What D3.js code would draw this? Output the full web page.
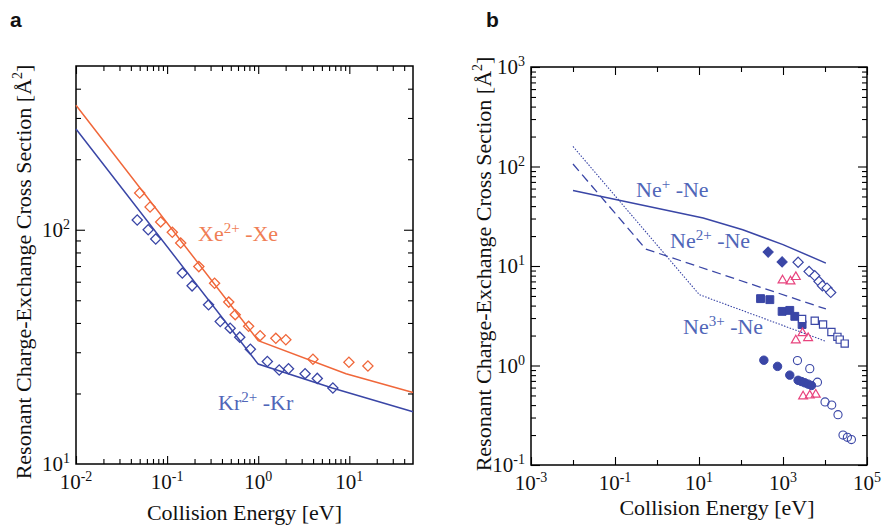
<!DOCTYPE html>
<html><head><meta charset="utf-8">
<script src="https://cdn.jsdelivr.net/npm/d3@7"></script>
<style>
body{margin:0;background:#fff}
svg{display:block}
</style>
</head><body>
<svg id="c" width="883" height="525" font-family="'Liberation Serif', 'DejaVu Serif', serif"></svg>
<script>
// ================= DATA =================
// Panel a : Xe2+ -Xe and Kr2+ -Kr
const xeLine = [[0.01,340],[1,33.6],[9.2,24.3],[50,20.2]];
const krLine = [[0.01,269],[1,26.7],[6.5,21.1],[50,16.7]];
const xeEnergy = [0.050,0.065,0.085,0.114,0.141,0.223,0.332,0.475,0.559,0.785,1.05,1.56,2.01,3.99,9.9,16.0];
const xeSigma  = [143.5,125,108,97.5,87.7,69.6,59.1,49.1,43.4,38.7,35.3,34.4,33.9,28.0,27.2,26.2];
const krEnergy = [0.047,0.062,0.075,0.147,0.188,0.285,0.383,0.492,0.627,0.82,1.26,1.70,2.15,3.27,4.45,6.6];
const krSigma  = [110,100,91.3,65.3,57.6,47.8,40.6,38.0,34.8,30.9,27.4,25.2,25.5,24.3,23.2,21.1];

// Panel b : Ne+ , Ne2+ , Ne3+ -Ne
const ne1Line = [[0.01,57.4],[12.6,30.3],[110,23.1],[1000,16.4],[10500,10.7]];
const ne2Line = [[0.01,106],[0.54,14.8],[10500,3.7]];
const ne3Line = [[0.01,159],[10.2,5.15],[10500,1.75]];

const ne1FilledE = [443,953];
const ne1FilledS = [13.8,11.0];
const ne1OpenE = [2290,4180,5700,7210,8690,11170,13680];
const ne1OpenS = [10.9,8.83,8.0,7.0,6.34,6.0,5.43];

const ne2FilledE = [292,486,953,1450,1910,2850];
const ne2FilledS = [4.7,4.59,3.5,3.58,3.12,2.58];
const ne2OpenE = [2850,5700,8980,14220,19760,22400,29450];
const ne2OpenS = [2.94,2.82,2.58,2.17,1.94,1.82,1.66];

const ne3FilledE = [350,741,1450,2290,2750,3300,3960,4760];
const ne3FilledS = [1.13,0.98,0.80,0.71,0.69,0.67,0.65,0.63];
const ne3OpenE = [2210,4340,6610,10020,14450,20400,26850,34120,42500];
const ne3OpenS = [1.12,0.93,0.68,0.43,0.40,0.32,0.20,0.19,0.18];

const triE1 = [975,1510,2020];  const triS1 = [7.17,7.0,7.76];
const triE2 = [2020,2910,3960]; const triS2 = [1.79,2.12,1.89];
const triE3 = [3010,4340,6030]; const triS3 = [0.49,0.50,0.51];

// tick labels
const aXTicks = [0.01,0.1,1,10];
const aXExp = ["-2","-1","0","1"];
const aYTicks = [10,100];
const aYExp = ["1","2"];
const bXTicks = [1e-3,1e-1,1e1,1e3,1e5];
const bXExp = ["-3","-1","1","3","5"];
const bYTicks = [0.1,1,10,100,1000];
const bYExp = ["-1","0","1","2","3"];

// ================= DRAW =================
const SERIF = "'Liberation Serif', 'DejaVu Serif', serif";
const ORANGE = "#F0673A", BLUE = "#3A46A6", PINK = "#E8447E";
const ORANGE_T = "#F07E55", BLUE_T = "#5066B8";
const svg = d3.select("#c");

function minorTicks(lo, hi) {
  const out = [];
  for (let e = Math.floor(Math.log10(lo)); e <= Math.ceil(Math.log10(hi)); e++) {
    for (let k = 2; k <= 9; k++) {
      const v = k * Math.pow(10, e);
      if (v > lo * 1.0001 && v < hi * 0.9999) out.push(+v.toPrecision(3));
    }
  }
  return out;
}
function decades(lo, hi) {
  const out = [];
  for (let e = Math.round(Math.log10(lo)); e <= Math.round(Math.log10(hi)); e++) out.push(Math.pow(10, e));
  return out;
}

function txt(parent) {
  return parent.append("text").attr("font-family", SERIF).style("font-family", SERIF);
}
function addSup(t, base, exp, supSize, shift, rest) {
  t.append("tspan").text(base);
  t.append("tspan").attr("font-size", supSize).attr("dy", -shift).text(exp);
  if (rest !== undefined) t.append("tspan").attr("dy", shift).text(rest);
}

function frame(cfg) {
  const x = d3.scaleLog().domain(cfg.xDomain).range([cfg.left, cfg.right]);
  const y = d3.scaleLog().domain(cfg.yDomain).range([cfg.bottom, cfg.top]);
  const g = svg.append("g");
  const ax = (axisFn, scale, vals, len, tr) => {
    g.append("g").attr("transform", tr)
      .call(axisFn(scale).tickValues(vals).tickSize(-len).tickFormat(""))
      .call(s => s.select(".domain").remove())
      .call(s => s.selectAll("line").attr("stroke", "#000").attr("stroke-width", 1.1));
  };
  cfg.xTickSets.forEach(([vals, len]) => {
    ax(d3.axisBottom, x, vals, len, `translate(0,${cfg.bottom})`);
    ax(d3.axisTop, x, vals, len, `translate(0,${cfg.top})`);
  });
  cfg.yTickSets.forEach(([vals, len]) => {
    ax(d3.axisLeft, y, vals, len, `translate(${cfg.left},0)`);
    ax(d3.axisRight, y, vals, len, `translate(${cfg.right},0)`);
  });
  g.append("rect").attr("x", cfg.left).attr("y", cfg.top)
    .attr("width", cfg.right - cfg.left).attr("height", cfg.bottom - cfg.top)
    .attr("fill", "none").attr("stroke", "#000").attr("stroke-width", 1.5);
  cfg.xLabels.forEach((v, i) => {
    const t = txt(g).attr("x", x(v)).attr("y", cfg.bottom + 25)
      .attr("text-anchor", "middle").attr("font-size", 21).attr("fill", "#111");
    addSup(t, "10", cfg.xExp[i], 14, 8);
  });
  cfg.yLabels.forEach((v, i) => {
    const t = txt(g).attr("x", cfg.left - 6).attr("y", y(v) + 7)
      .attr("text-anchor", "end").attr("font-size", 21).attr("fill", "#111");
    addSup(t, "10", cfg.yExp[i], 14, 8);
  });
  txt(g).attr("x", cfg.xTitleX).attr("y", cfg.xTitleY)
    .attr("text-anchor", "middle").attr("font-size", 22).attr("fill", "#111")
    .text("Collision Energy [eV]");
  const yt = txt(g).attr("transform", `translate(${cfg.yTitleX},${cfg.yTitleY}) rotate(-90)`)
    .attr("text-anchor", "middle").attr("font-size", 22).attr("fill", "#111");
  addSup(yt, "Resonant Charge-Exchange Cross Section [Å", "2", 14, 9, "]");
  svg.append("text").attr("x", cfg.letterX).attr("y", 27)
    .attr("font-weight", "bold").attr("font-size", 21).attr("fill", "#111").text(cfg.letter)
    .attr("font-family", "'Liberation Sans', Arial, sans-serif")
    .style("font-family", "'Liberation Sans', Arial, sans-serif");
  return {x, y, g};
}

// ---------- Panel a ----------
const A = frame({
  xDomain: [0.01, 50], yDomain: [10, 500],
  left: 76, right: 413, top: 66, bottom: 464,
  xTickSets: [[minorTicks(0.01, 50), 5], [decades(0.01, 10), 8]],
  yTickSets: [[minorTicks(10, 500), 5], [[100], 9]],
  xLabels: aXTicks, xExp: aXExp, yLabels: aYTicks, yExp: aYExp,
  xTitleX: 244.5, xTitleY: 520, yTitleX: 31, yTitleY: 272,
  letter: "a", letterX: 10
});
{
  const {x, y, g} = A;
  const line = d3.line().x(d => x(d[0])).y(d => y(d[1]));
  g.append("path").datum(xeLine).attr("d", line).attr("fill", "none").attr("stroke", ORANGE).attr("stroke-width", 1.5);
  g.append("path").datum(krLine).attr("d", line).attr("fill", "none").attr("stroke", BLUE).attr("stroke-width", 1.5);
  const dia = d3.symbol().type(d3.symbolSquare).size(52);
  const drawDia = (E, S, col) => g.selectAll(null).data(E.map((e, i) => [e, S[i]])).enter().append("path")
    .attr("d", dia).attr("transform", d => `translate(${x(d[0])},${y(d[1])}) rotate(45)`)
    .attr("fill", "none").attr("stroke", col).attr("stroke-width", 1.3);
  drawDia(xeEnergy, xeSigma, ORANGE);
  drawDia(krEnergy, krSigma, BLUE);
  const t1 = txt(g).attr("x", 198).attr("y", 241).attr("font-size", 22).attr("fill", ORANGE_T);
  addSup(t1, "Xe", "2+", 15, 8, " -Xe");
  const t2 = txt(g).attr("x", 218).attr("y", 410).attr("font-size", 22).attr("fill", BLUE_T);
  addSup(t2, "Kr", "2+", 15, 8, " -Kr");
}

// ---------- Panel b ----------
const B = frame({
  xDomain: [1e-3, 1e5], yDomain: [0.1, 1000],
  left: 531, right: 867, top: 67, bottom: 465,
  xTickSets: [[[1e-2, 1e0, 1e2, 1e4], 5], [bXTicks, 8]],
  yTickSets: [[minorTicks(0.1, 1000), 5], [decades(0.1, 1000), 9]],
  xLabels: bXTicks, xExp: bXExp, yLabels: bYTicks, yExp: bYExp,
  xTitleX: 717, xTitleY: 515, yTitleX: 491, yTitleY: 264,
  letter: "b", letterX: 486
});
{
  const {x, y, g} = B;
  const line = d3.line().x(d => x(d[0])).y(d => y(d[1]));
  g.append("path").datum(ne1Line).attr("d", line).attr("fill", "none").attr("stroke", BLUE).attr("stroke-width", 1.5);
  g.append("path").datum(ne2Line).attr("d", line).attr("fill", "none").attr("stroke", BLUE).attr("stroke-width", 1.3).attr("stroke-dasharray", "9,5");
  g.append("path").datum(ne3Line).attr("d", line).attr("fill", "none").attr("stroke", BLUE).attr("stroke-width", 1.1).attr("stroke-dasharray", "1.5,1.5");

  const pts = (E, S) => E.map((e, i) => [e, S[i]]);
  const draw = (E, S, sym, size, rot, fill, stroke, sw) => g.selectAll(null).data(pts(E, S)).enter().append("path")
    .attr("d", d3.symbol().type(sym).size(size))
    .attr("transform", d => `translate(${x(d[0])},${y(d[1])}) rotate(${rot})`)
    .attr("fill", fill).attr("stroke", stroke).attr("stroke-width", sw);

  draw(ne1FilledE, ne1FilledS, d3.symbolSquare, 52, 45, BLUE, BLUE, 1);
  draw(ne1OpenE, ne1OpenS, d3.symbolSquare, 52, 45, "#fff", BLUE, 1.2);
  draw(ne2FilledE, ne2FilledS, d3.symbolSquare, 62, 0, BLUE, BLUE, 1);
  draw(ne2OpenE, ne2OpenS, d3.symbolSquare, 52, 0, "#fff", BLUE, 1.2);
  draw(ne3FilledE, ne3FilledS, d3.symbolCircle, 56, 0, BLUE, BLUE, 1);
  draw(ne3OpenE, ne3OpenS, d3.symbolCircle, 52, 0, "none", BLUE, 1.1);
  draw(triE1, triS1, d3.symbolTriangle, 34, 0, "none", PINK, 1.2);
  draw(triE2, triS2, d3.symbolTriangle, 34, 0, "none", PINK, 1.2);
  draw(triE3, triS3, d3.symbolTriangle, 34, 0, "none", PINK, 1.2);

  const l1 = txt(g).attr("x", 636).attr("y", 197).attr("font-size", 22).attr("fill", BLUE_T);
  addSup(l1, "Ne", "+", 15, 8, " -Ne");
  const l2 = txt(g).attr("x", 670).attr("y", 248).attr("font-size", 22).attr("fill", BLUE_T);
  addSup(l2, "Ne", "2+", 15, 8, " -Ne");
  const l3 = txt(g).attr("x", 683).attr("y", 334).attr("font-size", 22).attr("fill", BLUE_T);
  addSup(l3, "Ne", "3+", 15, 8, " -Ne");
}
</script>
</body></html>
